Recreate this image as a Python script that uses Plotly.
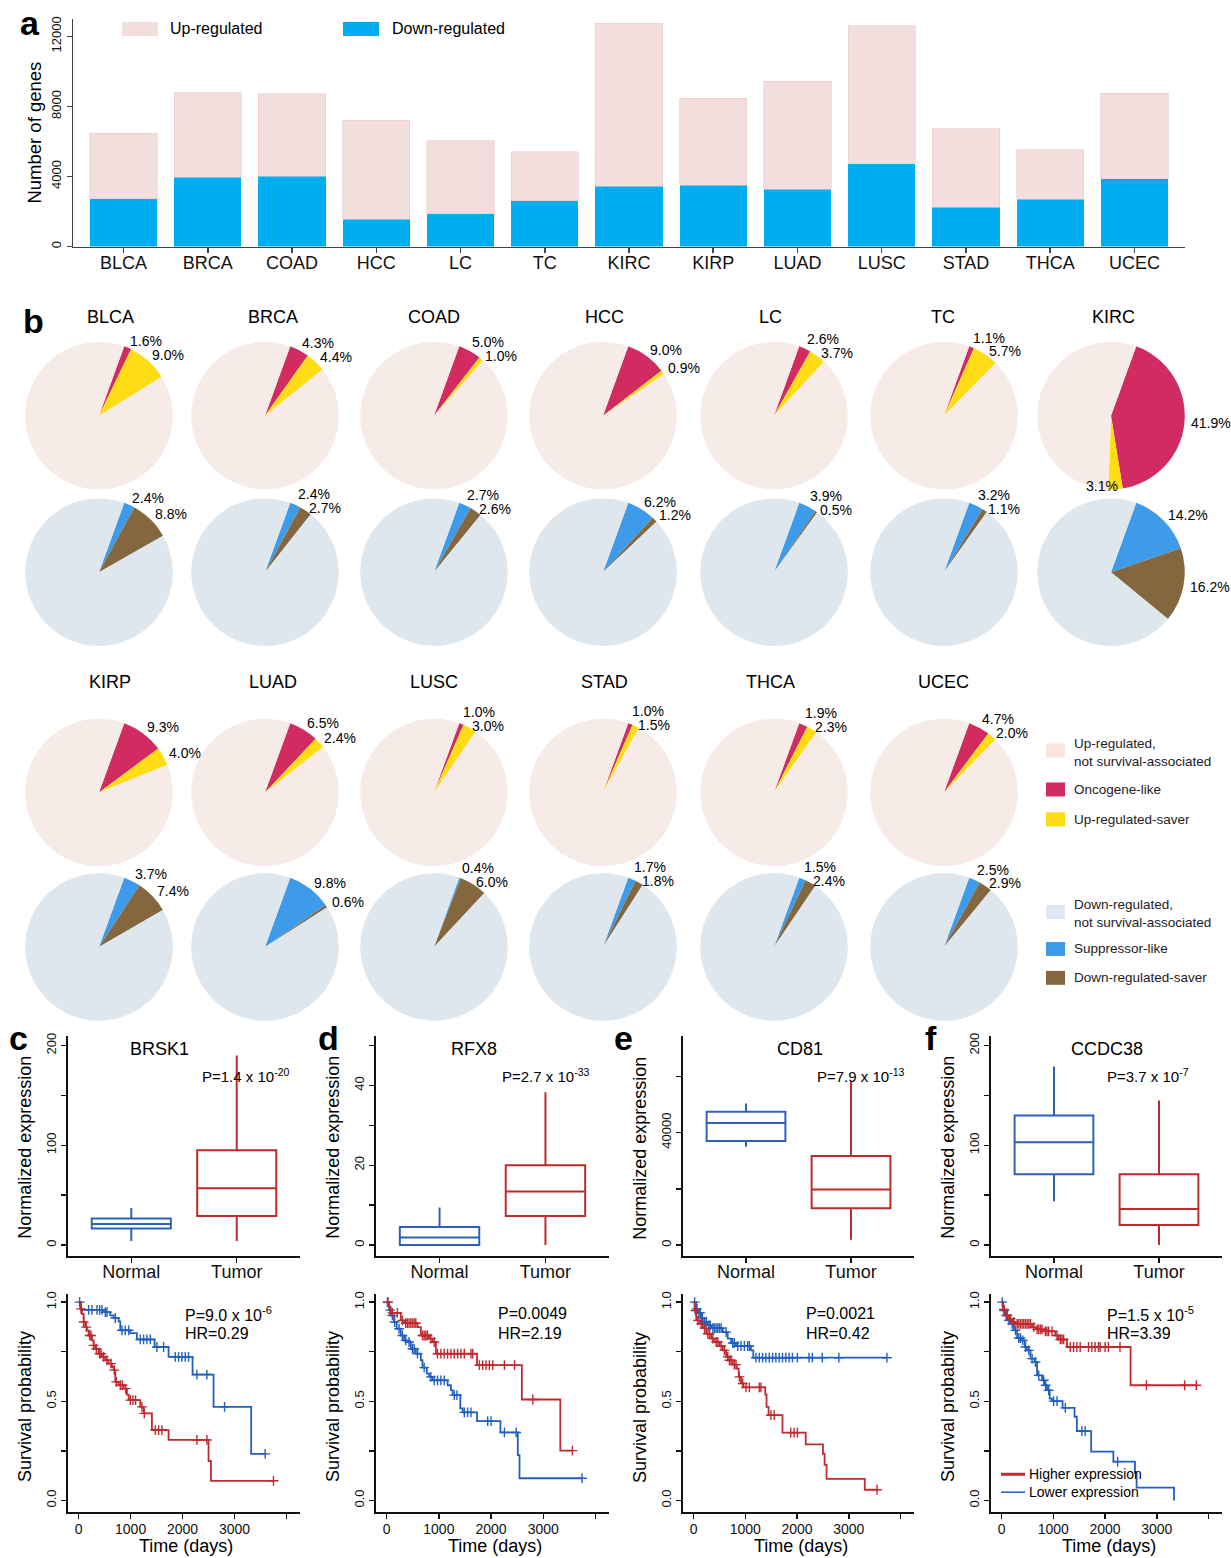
import math
import plotly.graph_objects as go

W, H = 1231, 1558
FONT = "Liberation Sans, Arial, sans-serif"

# ---------------- data: panel a ----------------
cancers = ["BLCA", "BRCA", "COAD", "HCC", "LC", "TC", "KIRC",
           "KIRP", "LUAD", "LUSC", "STAD", "THCA", "UCEC"]
down_genes = [2730, 3960, 4000, 1570, 1880, 2620, 3450, 3490, 3260, 4720, 2240, 2690, 3870]
up_genes = [3730, 4815, 4720, 5630, 4165, 2785, 9305, 4985, 6160, 7885, 4490, 2845, 4865]
bar_yticks = [0, 4000, 8000, 12000]
bar_yticktext = ["0", "4000", "8000", "12000"]

# ---------------- data: panel b (percent of up / down genes) ----------------
oncogene_like = [1.6, 4.3, 5.0, 9.0, 2.6, 1.1, 41.9, 9.3, 6.5, 1.0, 1.0, 1.9, 4.7]
up_saver = [9.0, 4.4, 1.0, 0.9, 3.7, 5.7, 3.1, 4.0, 2.4, 3.0, 1.5, 2.3, 2.0]
suppressor_like = [2.4, 2.4, 2.7, 6.2, 3.9, 3.2, 14.2, 3.7, 9.8, 0.4, 1.7, 1.5, 2.5]
down_saver = [8.8, 2.7, 2.6, 1.2, 0.5, 1.1, 16.2, 7.4, 0.6, 6.0, 1.8, 2.4, 2.9]
up_legend = ["Up-regulated,<br>not survival-associated", "Oncogene-like", "Up-regulated-saver"]
down_legend = ["Down-regulated,<br>not survival-associated", "Suppressor-like", "Down-regulated-saver"]

# ---------------- data: panels c-f box plots ----------------
genes = ["BRSK1", "RFX8", "CD81", "CCDC38"]
box_pvals = ["P=1.4 x 10<sup>-20</sup>", "P=2.7 x 10<sup>-33</sup>",
             "P=7.9 x 10<sup>-13</sup>", "P=3.7 x 10<sup>-7</sup>"]
normal_low = [4, 0, 35000, 44]
normal_q1 = [16.5, 0, 37000, 71]
normal_med = [21, 1.9, 43400, 103]
normal_q3 = [26.7, 4.5, 47400, 130]
normal_high = [37, 9.4, 50400, 179]
tumor_low = [4, 0, 1900, 0]
tumor_q1 = [29, 7.3, 13100, 20]
tumor_med = [57, 13.4, 19800, 36]
tumor_q3 = [95, 20, 31700, 71]
tumor_high = [190, 38.3, 58300, 145]
box_ranges = [[-11, 210], [-2.75, 52.5], [-3900, 74500], [-11, 210]]
box_ticks = [[0, 50, 100, 150, 200], [0, 10, 20, 30, 40, 50],
             [0, 20000, 40000, 60000], [0, 50, 100, 150, 200]]
box_ticktext = [["0", "", "100", "", "200"], ["0", "", "20", "", "40", ""],
                ["0", "", "40000", ""], ["0", "", "100", "", "200"]]

# ---------------- data: Kaplan-Meier curves (days, survival) ----------------
km_pvals = ["P=9.0 x 10<sup>-6</sup>", "P=0.0049", "P=0.0021", "P=1.5 x 10<sup>-5</sup>"]
km_hr = ["HR=0.29", "HR=2.19", "HR=0.42", "HR=3.39"]

c_high_t = [0, 32, 64, 96, 128, 160, 192, 256, 288, 320, 385, 449, 513, 577, 641, 673, 705,
            769, 865, 929, 962, 1186, 1250, 1410, 1731, 2500, 2545]
c_high_s = [1.0, .966, .941, .900, .874, .858, .832, .807, .782, .765, .740, .724, .707, .690,
            .673, .657, .598, .581, .564, .534, .506, .472, .439, .355, .305, .199, .099]
c_high_cens = [45, 96, 147, 212, 237, 288, 340, 404, 430, 481, 545, 622, 686, 724, 801, 840,
               904, 994, 1045, 1096, 1218, 1263, 1475, 1539, 1603, 2276, 2468, 3750]
c_low_t = [0, 45, 481, 609, 673, 769, 801, 994, 1122, 1461, 1731, 2192, 2596, 3320]
c_low_s = [1.0, .961, .950, .933, .920, .903, .858, .844, .812, .774, .724, .635, .472, .235]
c_low_cens = [19, 192, 256, 353, 404, 449, 513, 545, 705, 833, 897, 962, 1186, 1250, 1314,
              1378, 1506, 1635, 1859, 1923, 1987, 2051, 2115, 2276, 2468, 2808, 3590]

d_high_t = [0, 45, 77, 269, 333, 590, 654, 814, 878, 942, 1731, 2590, 3327]
d_high_s = [1.0, .975, .946, .908, .894, .874, .832, .816, .799, .740, .682, .509, .251]
d_high_cens = [26, 109, 205, 301, 365, 397, 429, 462, 494, 526, 558, 686, 718, 750, 782, 846,
               910, 974, 1038, 1102, 1167, 1231, 1295, 1359, 1423, 1487, 1615, 1647, 1776,
               1840, 1904, 1968, 2032, 2256, 2449, 2801, 3558]
d_low_t = [0, 45, 77, 141, 192, 269, 333, 397, 462, 558, 654, 686, 769, 814, 878, 1167, 1231,
           1263, 1410, 1455, 1731, 2179, 2513, 2545]
d_low_s = [1.0, .960, .933, .900, .866, .832, .807, .799, .765, .740, .707, .670, .640, .623,
           .606, .581, .556, .531, .464, .444, .400, .343, .229, .112]
d_low_cens = [13, 64, 109, 154, 237, 301, 365, 429, 494, 526, 590, 718, 846, 910, 974, 1038,
              1102, 1295, 1346, 1487, 1551, 1615, 1936, 2000, 2256, 2481, 3743]

e_high_t = [0, 19, 51, 115, 179, 244, 340, 404, 500, 564, 628, 692, 756, 833, 872, 917, 962,
            1385, 1410, 1449, 1718, 2167, 2500, 2532, 2570, 3308]
e_high_s = [1.0, .958, .908, .891, .869, .841, .816, .799, .779, .757, .724, .707, .685, .665,
            .623, .590, .570, .534, .472, .430, .342, .283, .235, .179, .109, .054]
e_high_cens = [38, 83, 147, 212, 276, 308, 372, 436, 468, 532, 596, 660, 692, 724, 788, 820,
               885, 949, 1013, 1077, 1269, 1301, 1494, 1558, 1878, 1942, 2006, 3545]
e_low_t = [0, 51, 83, 147, 179, 276, 340, 564, 660, 724, 820, 1109, 1154]
e_low_s = [1.0, .966, .946, .920, .900, .883, .869, .849, .816, .794, .779, .757, .720]
e_low_cens = [19, 64, 103, 128, 167, 212, 244, 295, 321, 372, 404, 436, 468, 500, 532, 628,
              756, 788, 853, 917, 981, 1045, 1077, 1205, 1269, 1333, 1397, 1462, 1526, 1590,
              1654, 1718, 1782, 1846, 1910, 2006, 2231, 2295, 2487, 2808, 3737]

f_high_t = [0, 26, 77, 141, 205, 269, 590, 654, 814, 1038, 1103, 1263, 2493]
f_high_s = [1.0, .963, .933, .916, .900, .891, .874, .863, .853, .832, .812, .774, .581]
f_high_cens = [45, 109, 173, 237, 301, 333, 365, 397, 429, 462, 494, 526, 558, 622, 686, 718,
               750, 782, 846, 878, 910, 974, 1071, 1135, 1167, 1199, 1327, 1391, 1455, 1519,
               1680, 1744, 1808, 1872, 1904, 2000, 2064, 2288, 2801, 3539, 3763]
f_low_t = [0, 26, 64, 109, 173, 237, 301, 397, 449, 494, 558, 641, 686, 782, 833, 878, 929,
           974, 1179, 1410, 1455, 1731, 2160, 2577, 2609, 3333]
f_low_s = [1.0, .958, .933, .908, .891, .858, .819, .807, .774, .757, .715, .698, .631, .606,
           .581, .556, .514, .501, .467, .422, .350, .246, .196, .141, .065, 0.0]
f_low_cens = [13, 51, 90, 141, 205, 269, 333, 365, 410, 462, 526, 590, 654, 718, 814, 853, 910,
              1006, 1071, 1231, 1551, 1615, 2243]

km_sets = [
    (c_high_t, c_high_s, c_high_cens, c_low_t, c_low_s, c_low_cens),
    (d_high_t, d_high_s, d_high_cens, d_low_t, d_low_s, d_low_cens),
    (e_high_t, e_high_s, e_high_cens, e_low_t, e_low_s, e_low_cens),
    (f_high_t, f_high_s, f_high_cens, f_low_t, f_low_s, f_low_cens),
]
km_xticks = [0, 1000, 2000, 3000, 4000]
km_xticktext = ["0", "1000", "2000", "3000", ""]
km_yticks = [0, 0.25, 0.5, 0.75, 1.0]
km_yticktext = ["0.0", "", "0.5", "", "1.0"]

# ---------------- styles ----------------
BAR_UP = "#F2DEDD"
BAR_DOWN = "#00AEEF"
UP_COLS = ["#F7EBE7", "#D22B62", "#FFDC14"]   # background, oncogene-like, up-saver
DN_COLS = ["#DEE6EE", "#3D9BE9", "#84673F"]   # background, suppressor-like, down-saver
RED = "#BF2A2F"
BLUE = "#2160C0"
BOX_N = "#2E62B8"
BOX_T = "#BE2B2B"


def px_x(px):
    return px / W


def px_y(py):
    return 1 - py / H


fig = go.Figure()
annotations = []
shapes = []


def add_text(x, y, text, size=14, xanchor="center", yanchor="middle", bold=False,
             angle=0, color="#000", align="center"):
    annotations.append(dict(
        x=px_x(x), y=px_y(y), xref="paper", yref="paper", text=("<b>%s</b>" % text) if bold else text,
        showarrow=False, xanchor=xanchor, yanchor=yanchor, textangle=angle, align=align,
        font=dict(family=FONT, size=size, color=color)))


def add_rect(x0, y0, x1, y1, color):
    shapes.append(dict(type="rect", xref="paper", yref="paper", x0=px_x(x0), x1=px_x(x1),
                       y0=px_y(y1), y1=px_y(y0), fillcolor=color, line=dict(width=0)))


def axis_style(**kw):
    d = dict(showline=True, linecolor="#111", linewidth=2, ticks="outside", ticklen=5,
             tickwidth=1.5, tickcolor="#111", showgrid=False, zeroline=False,
             tickfont=dict(family=FONT, size=13, color="#111"), fixedrange=True)
    d.update(kw)
    return d


layout_axes = {}

# ---------------- panel a ----------------
fig.add_trace(go.Bar(x=cancers, y=down_genes, marker=dict(color=BAR_DOWN, line=dict(width=0)),
                     width=0.8, xaxis="x", yaxis="y", hoverinfo="skip"))
fig.add_trace(go.Bar(x=cancers, y=up_genes, marker=dict(color=BAR_UP, line=dict(width=0.6, color="#EBCACA")),
                     width=0.8, xaxis="x", yaxis="y", hoverinfo="skip"))
layout_axes["xaxis"] = axis_style(domain=[px_x(73), px_x(1185)], anchor="y", range=[-0.6, 12.6],
                                  linewidth=1.5, linecolor="#444", tickcolor="#444",
                                  ticklabelstandoff=-6,
                                  tickfont=dict(family=FONT, size=18, color="#111"))
layout_axes["yaxis"] = axis_style(domain=[px_y(244.3), px_y(16)], anchor="x", range=[0, 12990],
                                  tickvals=bar_yticks, ticktext=bar_yticktext, tickangle=-90,
                                  linewidth=1.5, linecolor="#444", tickcolor="#444")
add_text(35, 130, "Number of genes", size=18.5, angle=-90)
add_rect(122, 19, 158, 33, BAR_UP)
add_text(168, 26, "Up-regulated", size=16, xanchor="left")
add_rect(343, 19, 379, 33, BAR_DOWN)
add_text(390, 26, "Down-regulated", size=16, xanchor="left")

# ---------------- panel b : pies ----------------
R = 74
ROT = 20
COLS = [99, 265, 434, 603, 774, 944, 1111]
TITLE_DX = [11, 8, 0, 1, -4, -1, 2]
ROW_TITLE = [315, 681]
ROW_UP = [414, 792]
ROW_DN = [571, 947]


def pie_at(cx, cy, a, b, cols):
    vals = [a, b, round(100 - a - b, 1)]
    fig.add_trace(go.Pie(values=vals, labels=["s1", "s2", "rest"], sort=False,
                         direction="clockwise", rotation=ROT,
                         marker=dict(colors=[cols[1], cols[2], cols[0]], line=dict(width=0)),
                         textinfo="none", hoverinfo="skip", showlegend=False,
                         domain=dict(x=[px_x(cx - R), px_x(cx + R)], y=[px_y(cy + R), px_y(cy - R)])))
    # percentage labels placed along the mid-angle of each small slice
    pos = []
    ang = ROT
    for v in (a, b):
        mid = math.radians(ang + v * 3.6 / 2)
        ang += v * 3.6
        px = cx + 1.1 * R * math.sin(mid)
        py = cy - 1.1 * R * math.cos(mid)
        s = math.sin(mid)
        if s > 0.25:
            anchor = "left"
            px -= 3
        elif math.cos(mid) < 0:
            anchor = "right"
            px += 4
            py -= 11
        else:
            anchor = "center"
        pos.append([px, py, anchor, v])
    dy = pos[1][1] - pos[0][1]
    if abs(dy) < 14 and pos[0][2] == "left" and pos[1][2] == "left":
        shift = (14 - dy) / 2
        pos[0][1] -= shift
        pos[1][1] += shift
    for px, py, anchor, v in pos:
        add_text(px, py, "%.1f%%" % v, size=14, xanchor=anchor)


for i, name in enumerate(cancers):
    row = 0 if i < 7 else 1
    col = i if i < 7 else i - 7
    cx = COLS[col]
    add_text(cx + TITLE_DX[col], ROW_TITLE[row], name, size=18)
    pie_at(cx, ROW_UP[row], oncogene_like[i], up_saver[i], UP_COLS)
    pie_at(cx, ROW_DN[row], suppressor_like[i], down_saver[i], DN_COLS)

# pie legends
for k, (yy, lab) in enumerate(zip([750, 789, 819], up_legend)):
    add_rect(1046, yy - 7, 1065, yy + 7, UP_COLS[k] if k else "#FAE6DF")
    add_text(1072, yy + (2 if k == 0 else 0), lab, size=13.5, xanchor="left", color="#222",
             align="left")
for k, (yy, lab) in enumerate(zip([912, 949, 978], down_legend)):
    add_rect(1046, yy - 7, 1065, yy + 7, DN_COLS[k] if k else "#DDE8F4")
    add_text(1072, yy + (1 if k == 0 else 0), lab, size=13.5, xanchor="left", color="#222",
             align="left")

# ---------------- panels c-f ----------------
X_DOM = [(68, 300), (376, 609), (683, 914), (991, 1222)]
BOX_Y = (1036, 1257)
KM_Y = (1295, 1514)
LETTERS = ["c", "d", "e", "f"]
LETTER_X = [18, 328, 623, 931]
GENE_X = [160, 474, 800, 1107]
BOXP_X = [200, 500, 815, 1105]
KMP_X = [183, 496, 804, 1105]

for j in range(4):
    bx = "x%d" % (j + 2)
    by = "y%d" % (j + 2)
    kx = "x%d" % (j + 6)
    ky = "y%d" % (j + 6)
    x0, x1 = X_DOM[j]

    # box plots (precomputed five-number summaries)
    fig.add_trace(go.Box(x=["Normal"], q1=[normal_q1[j]], median=[normal_med[j]], q3=[normal_q3[j]],
                         lowerfence=[normal_low[j]], upperfence=[normal_high[j]],
                         line=dict(color=BOX_N, width=2), fillcolor="rgba(255,255,255,0)",
                         whiskerwidth=0, width=0.75, boxpoints=False, xaxis=bx, yaxis=by,
                         hoverinfo="skip", showlegend=False))
    fig.add_trace(go.Box(x=["Tumor"], q1=[tumor_q1[j]], median=[tumor_med[j]], q3=[tumor_q3[j]],
                         lowerfence=[tumor_low[j]], upperfence=[tumor_high[j]],
                         line=dict(color=BOX_T, width=2), fillcolor="rgba(255,255,255,0)",
                         whiskerwidth=0, width=0.75, boxpoints=False, xaxis=bx, yaxis=by,
                         hoverinfo="skip", showlegend=False))
    layout_axes["xaxis%d" % (j + 2)] = axis_style(
        domain=[px_x(x0), px_x(x1)], anchor=by, type="category",
        categoryorder="array", categoryarray=["Normal", "Tumor"], range=[-0.6, 1.6],
        ticklabelstandoff=-7,
        tickfont=dict(family=FONT, size=18, color="#111"))
    layout_axes["yaxis%d" % (j + 2)] = axis_style(
        domain=[px_y(BOX_Y[1]), px_y(BOX_Y[0])], anchor=bx, range=box_ranges[j],
        tickvals=box_ticks[j], ticktext=box_ticktext[j], tickangle=-90)

    # Kaplan-Meier curves
    ht, hs, hc, lt, ls, lc = km_sets[j]
    for ts, ss, cens, col, lw in ((lt, ls, lc, BLUE, 1.8), (ht, hs, hc, RED, 1.8)):
        xs = list(ts)
        ys = list(ss)
        if cens and max(cens) > xs[-1]:
            xs.append(max(cens))
            ys.append(ys[-1])
        fig.add_trace(go.Scatter(x=xs, y=ys, mode="lines", line=dict(color=col, width=lw, shape="hv"),
                                 xaxis=kx, yaxis=ky, hoverinfo="skip", showlegend=False))
        cy_vals = []
        for c in cens:
            v = ss[0]
            for tt, sv in zip(ts, ss):
                if tt <= c:
                    v = sv
            cy_vals.append(v)
        fig.add_trace(go.Scatter(x=cens, y=cy_vals, mode="markers",
                                 marker=dict(symbol="cross-thin", size=7, line=dict(width=1.4, color=col)),
                                 xaxis=kx, yaxis=ky, hoverinfo="skip", showlegend=False))
    layout_axes["xaxis%d" % (j + 6)] = axis_style(
        domain=[px_x(x0), px_x(x1)], anchor=ky, range=[-205, 4260],
        tickvals=km_xticks, ticktext=km_xticktext, ticklabelstandoff=-2,
        tickfont=dict(family=FONT, size=14, color="#111"))
    layout_axes["yaxis%d" % (j + 6)] = axis_style(
        domain=[px_y(KM_Y[1]), px_y(KM_Y[0])], anchor=kx, range=[-0.059, 1.042],
        tickvals=km_yticks, ticktext=km_yticktext, tickangle=-90)

    # texts
    add_text(LETTER_X[j], 1038, LETTERS[j], size=34, bold=True)
    add_text(x0 - 43, (BOX_Y[0] + BOX_Y[1]) / 2 + 2, "Normalized expression", size=18, angle=-90)
    add_text(x0 - 43, (KM_Y[0] + KM_Y[1]) / 2 + 4, "Survival probability", size=18, angle=-90)
    add_text((x0 + x1) / 2 + 2, 1548, "Time (days)", size=18)
    add_text(GENE_X[j], 1049, genes[j], size=18)
    add_text(BOXP_X[j], 1076, box_pvals[j], size=15, xanchor="left")
    add_text(KMP_X[j], 1315, km_pvals[j], size=16, xanchor="left")
    add_text(KMP_X[j], 1335, km_hr[j], size=16, xanchor="left")

# KM legend (panel f)
shapes.append(dict(type="line", xref="paper", yref="paper", x0=px_x(1001), x1=px_x(1025),
                   y0=px_y(1476), y1=px_y(1476), line=dict(color=RED, width=3)))
shapes.append(dict(type="line", xref="paper", yref="paper", x0=px_x(1001), x1=px_x(1025),
                   y0=px_y(1494), y1=px_y(1494), line=dict(color=BLUE, width=1.5)))
add_text(1027, 1476, "Higher expression", size=14, xanchor="left")
add_text(1027, 1494, "Lower expression", size=14, xanchor="left")

# panel letters a, b
add_text(30, 20, "a", size=34, bold=True)
add_text(33, 319, "b", size=34, bold=True)

fig.update_layout(
    width=W, height=H, margin=dict(l=0, r=0, t=0, b=0), autosize=False,
    paper_bgcolor="white", plot_bgcolor="white", barmode="stack", boxmode="overlay",
    showlegend=False, font=dict(family=FONT, color="#111"),
    annotations=annotations, shapes=shapes, **layout_axes)

fig.write_html("out.html", config={"displayModeBar": False, "staticPlot": True},
               post_script="document.body.style.margin='0';document.body.style.padding='0';")
